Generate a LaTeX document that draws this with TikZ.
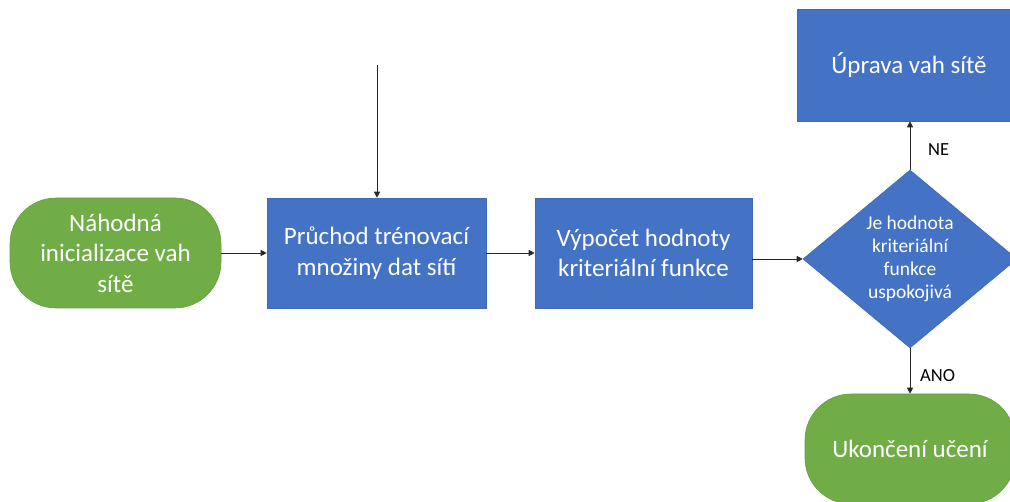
\documentclass[tikz,border=0pt]{standalone}
\usepackage{fontspec}
\setmainfont{Carlito}
\usetikzlibrary{shapes.geometric,arrows.meta}
\definecolor{oblue}{HTML}{4472C4}
\definecolor{oblueline}{HTML}{3F69B4}
\definecolor{ogreen}{HTML}{70AD47}
\definecolor{ogreenline}{HTML}{65A03F}
\definecolor{conn}{HTML}{262626}
\tikzset{
  procbox/.style={draw=oblueline, line width=0.6pt, fill=oblue, text=white, align=center,
    minimum height=110pt, inner sep=0pt, font=\fontsize{25}{30.5}\selectfont},
  termbox/.style={draw=ogreenline, line width=0.6pt, fill=ogreen, text=white, align=center,
    rounded corners=46pt, minimum height=110pt, inner sep=0pt, font=\fontsize{25}{30.5}\selectfont},
  decbox/.style={diamond, draw=oblueline, line width=0.6pt, fill=oblue, text=white, align=center,
    minimum width=214pt, minimum height=178pt, inner sep=0pt, aspect=1.2,
    font=\fontsize{19.5}{23}\selectfont},
  conn/.style={draw=conn, line width=0.7pt, -{Triangle[length=6pt,width=6pt]}},
  lbl/.style={anchor=west, inner sep=0pt, font=\fontsize{18.5}{22}\selectfont, text=black}
}
\begin{document}
\begin{tikzpicture}[x=1pt,y=-1pt]
\useasboundingbox (0,0) rectangle (1010,502);
\clip (0,0) rectangle (1010,502);
\node[termbox, minimum width=211pt] (init) at (115.5,253) {Náhodná\\inicializace vah\\sítě};
\node[procbox, minimum width=219pt] (pass) at (376.5,253) {Průchod trénovací\\množiny dat sítí};
\node[procbox, minimum width=217pt] (crit) at (643.5,253) {Výpočet hodnoty\\kriteriální funkce};
\node[decbox] (dec) at (910,259) {Je hodnota\\kriteriální\\funkce\\uspokojivá};
\node[procbox, minimum width=224pt, minimum height=112pt] (adj) at (909,65) {Úprava vah sítě};
\node[termbox, minimum width=210pt] (done) at (910,449) {Ukončení učení};
\coordinate (feed) at (377,65);
\draw[conn] (init.east) -- (pass.west);
\draw[conn] (pass.east) -- (crit.west);
\draw[conn] (dec.west -| crit.east) -- (dec.west);
\draw[conn] (feed) -- (pass.north -| feed);
\draw[conn] (dec.north) -- (dec.north |- adj.south);
\draw[conn] (dec.south) -- (dec.south |- done.north);
\node[lbl] (ne) at (928,150) {NE};
\node[lbl] (ano) at (920,376) {ANO};
\end{tikzpicture}
\end{document}
